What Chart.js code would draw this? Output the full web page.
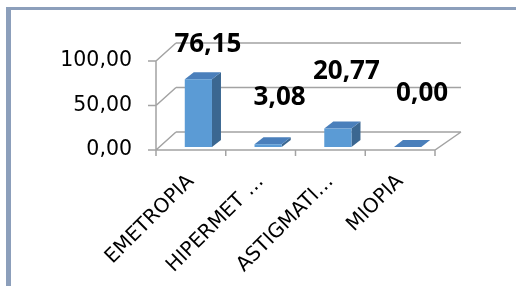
<!DOCTYPE html>
<html>
<head>
<meta charset="utf-8">
<script src="https://cdn.jsdelivr.net/npm/chart.js@4/dist/chart.umd.min.js"></script>
<style>
  html, body { margin: 0; padding: 0; background: #ffffff; }
  #wrap { position: relative; width: 516px; height: 286px; overflow: hidden; }
  #frame { position: absolute; left: 6px; top: 7px; width: 600px; height: 400px;
           border-left: 5px solid #8c9fbb; border-top: 3px solid #8c9fbb; pointer-events: none; }
  canvas { position: absolute; left: 0; top: 0; }
</style>
</head>
<body>
<div id="wrap">
  <canvas id="c" width="516" height="286"></canvas>
  <div id="frame"></div>
</div>
<script>
// ---- data ----
const categories = ['EMETROPIA', 'HIPERMET …', 'ASTIGMATI…', 'MIOPIA'];
const values = [76.15, 3.08, 20.77, 0.00];
const yTicks = [0, 50, 100];

// ---- style / layout (not data) ----
const labelOffsetY = [-38, -50, -60, -56];
const labelOffsetX = [17, 19, 16, 22];
const fmt = v => v.toFixed(2).replace('.', ',');

const DEPTH_DX = 20, DEPTH_DY = -18, RIGHT_DX = 26;
const BAR_OX = 7.5, BAR_OY = -3, BAR_DX = 9, BAR_DY = -7;
const GRID = '#a3a3a3';

const wallPlugin = {
  id: 'wall',
  beforeDatasetsDraw(chart) {
    const ctx = chart.ctx, y = chart.scales.y, a = chart.chartArea;
    ctx.save();
    ctx.strokeStyle = GRID;
    ctx.lineWidth = 1.5;
    ctx.beginPath();
    yTicks.forEach(v => {
      const py = y.getPixelForValue(v);
      ctx.moveTo(a.left + DEPTH_DX, py + DEPTH_DY);
      ctx.lineTo(a.right + RIGHT_DX, py + DEPTH_DY);
      ctx.moveTo(a.left, py);
      ctx.lineTo(a.left + DEPTH_DX, py + DEPTH_DY);
      ctx.moveTo(a.left - 8, py);
      ctx.lineTo(a.left, py);
    });
    ctx.moveTo(a.left, y.getPixelForValue(100));
    ctx.lineTo(a.left, a.bottom);
    ctx.moveTo(a.left, a.bottom);
    ctx.lineTo(a.right, a.bottom);
    ctx.lineTo(a.right + RIGHT_DX, a.bottom + DEPTH_DY);
    const n = categories.length;
    for (let i = 0; i <= n; i++) {
      const px = a.left + (a.right - a.left) * i / n;
      ctx.moveTo(px, a.bottom);
      ctx.lineTo(px, a.bottom + 6);
    }
    ctx.stroke();
    ctx.restore();
  },
  afterDatasetsDraw(chart) {
    const ctx = chart.ctx;
    const meta = chart.getDatasetMeta(0);
    ctx.save();
    meta.data.forEach((el, i) => {
      const p = el.getProps(['x', 'y', 'base', 'width'], true);
      const l = p.x - p.width / 2 + BAR_OX, r = p.x + p.width / 2 + BAR_OX;
      const t = Math.min(p.y, p.base) + BAR_OY, b = p.base + BAR_OY;
      ctx.fillStyle = '#3b6791';
      ctx.beginPath();
      ctx.moveTo(r, t); ctx.lineTo(r + BAR_DX, t + BAR_DY);
      ctx.lineTo(r + BAR_DX, b + BAR_DY); ctx.lineTo(r, b); ctx.closePath();
      ctx.fill();
      ctx.fillStyle = '#4a7fbb';
      ctx.beginPath();
      ctx.moveTo(l, t); ctx.lineTo(r, t);
      ctx.lineTo(r + BAR_DX, t + BAR_DY); ctx.lineTo(l + BAR_DX, t + BAR_DY); ctx.closePath();
      ctx.fill();
      ctx.fillStyle = '#5b9bd5';
      ctx.fillRect(l, t, r - l, b - t);
    });
    ctx.fillStyle = '#000000';
    ctx.font = 'bold 26px "Open Sans"';
    ctx.textAlign = 'center';
    ctx.textBaseline = 'middle';
    meta.data.forEach((el, i) => {
      const p = el.getProps(['x', 'y'], true);
      ctx.fillText(fmt(values[i]), p.x + labelOffsetX[i], p.y + labelOffsetY[i]);
    });
    ctx.restore();
  }
};

new Chart(document.getElementById('c'), {
  type: 'bar',
  data: {
    labels: categories,
    datasets: [{
      data: values,
      backgroundColor: 'rgba(0,0,0,0)',
      borderWidth: 0,
      barPercentage: 0.39,
      categoryPercentage: 1.0
    }]
  },
  options: {
    responsive: false,
    animation: false,
    devicePixelRatio: 1,
    layout: { padding: { left: 0, top: 61, right: 81, bottom: 0 } },
    plugins: { legend: { display: false }, tooltip: { enabled: false } },
    scales: {
      x: {
        grid: { display: false, drawTicks: false },
        border: { display: false },
        afterFit: s => { s.height = 136; },
        ticks: {
          color: '#000000',
          font: { family: 'DejaVu Sans', size: 20 },
          minRotation: 45, maxRotation: 45,
          autoSkip: false,
          padding: 20
        }
      },
      y: {
        min: 0, max: 100,
        grid: { display: false, drawTicks: false },
        border: { display: false },
        afterFit: s => { s.width = 156; },
        afterBuildTicks: s => { s.ticks = yTicks.map(v => ({ value: v })); },
        ticks: {
          color: '#000000',
          font: { family: 'DejaVu Sans', size: 20.5 },
          padding: 24,
          callback: v => fmt(v)
        }
      }
    }
  },
  plugins: [wallPlugin]
});
</script>
</body>
</html>
